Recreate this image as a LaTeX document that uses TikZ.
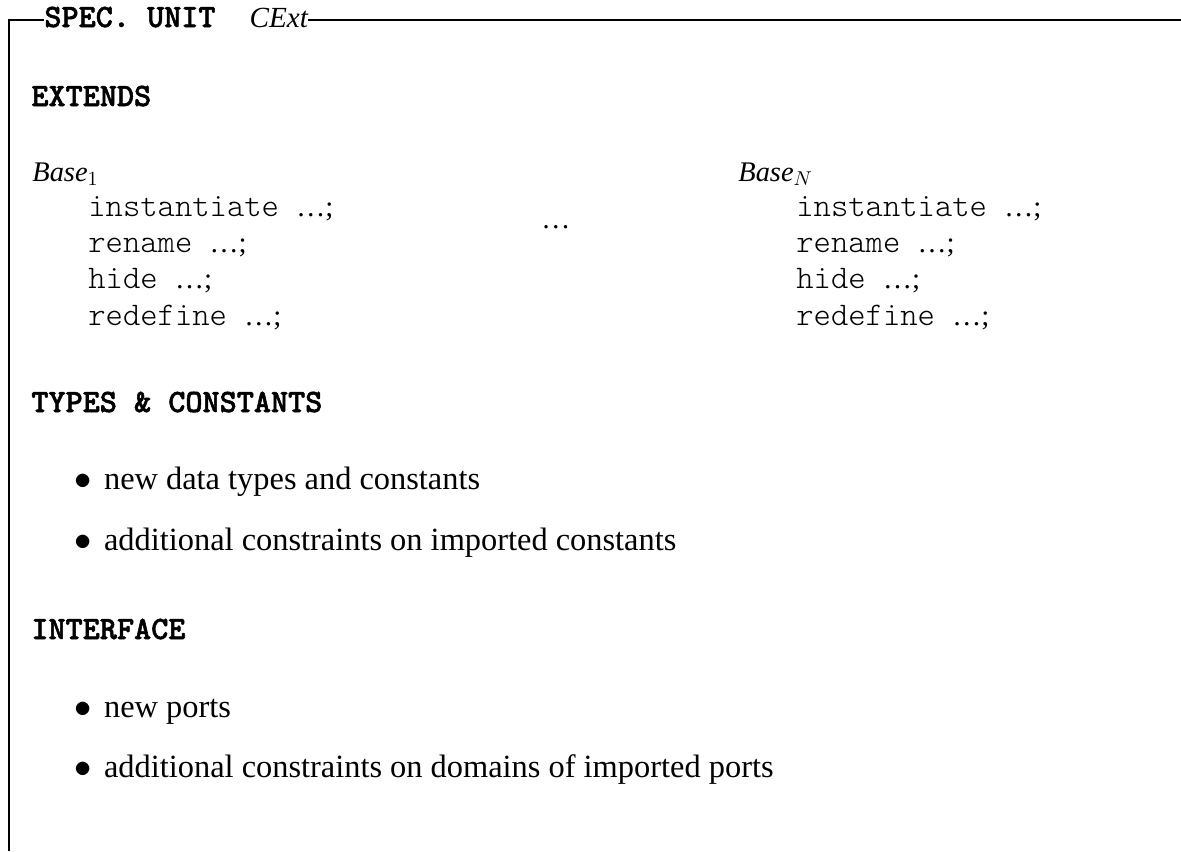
\documentclass[tikz,border=0pt]{standalone}
\usepackage{fontspec}
\setmainfont{Liberation Serif}
\newfontfamily\ttbold{lmmonolt10-bold.otf}[FakeBold=1.6]
\newfontfamily\ttlight{lmmonolt10-regular.otf}
\begin{document}
\begin{tikzpicture}[x=0.5pt,y=-0.5pt,
  every node/.style={inner sep=0pt, anchor=base west, font=\fontsize{16.2}{19}\selectfont},
  head/.style={font=\fontsize{16.3}{19}\selectfont\ttbold},
  code/.style={font=\fontsize{14.5}{17}\selectfont},
  ital/.style={font=\fontsize{14.2}{17}\selectfont\itshape},
  frame/.style={line width=0.6pt}]
\newcommand{\cw}[1]{{\fontsize{16.5}{19}\selectfont\ttlight #1\ }}
\newcommand{\bul}{$\bullet$\hspace{6.2pt}}
\useasboundingbox (0,0) rectangle (1181,851);
% title and frame
\node (title) at (44,27) {{\fontsize{16.3}{19}\selectfont\ttbold SPEC. UNIT}\hspace{17pt}{\fontsize{14.6}{17}\selectfont\itshape CExt}};
\coordinate (corner) at (9,20);
\coordinate (bottom) at (9,851);
\coordinate (right) at (1181,20);
\draw[frame] (bottom) -- (corner) -- (corner -| title.west);
\draw[frame] (title.east |- corner) -- (right);
% EXTENDS
\node[head] (ext) at (31,106) {EXTENDS};
\node[ital] (b1) at (32,181) {Base$_1$};
\node[code] (b1a) at (88,216) {\cw{instantiate}\ldots;};
\node[code] (b1b) at (88,252) {\cw{rename}\ldots;};
\node[code] (b1c) at (88,288) {\cw{hide}\ldots;};
\node[code] (b1d) at (88,325) {\cw{redefine}\ldots;};
\node[code] (dots) at (541,228) {\ldots};
\node[ital] (bN) at (738,181) {Base$_N$};
\node[code] (bNa) at (796,216) {\cw{instantiate}\ldots;};
\node[code] (bNb) at (796,252) {\cw{rename}\ldots;};
\node[code] (bNc) at (796,288) {\cw{hide}\ldots;};
\node[code] (bNd) at (796,325) {\cw{redefine}\ldots;};
% TYPES & CONSTANTS
\node[head] (tc) at (31,412) {TYPES \& CONSTANTS};
\node (tc1) at (74,489) {\bul new data types and constants};
\node (tc2) at (74,550) {\bul additional constraints on imported constants};
% INTERFACE
\node[head] (itf) at (31,639) {INTERFACE};
\node (i1) at (74,717) {\bul new ports};
\node (i2) at (74,777) {\bul additional constraints on domains of imported ports};
\end{tikzpicture}
\end{document}
